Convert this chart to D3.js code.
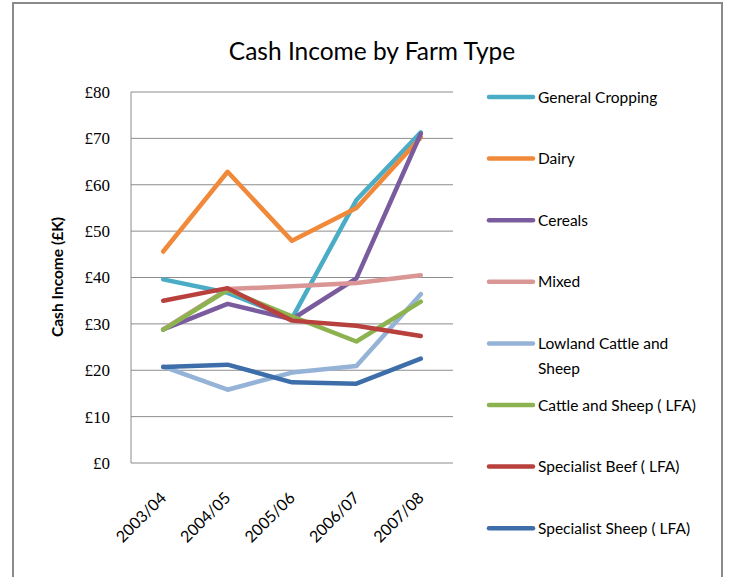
<!DOCTYPE html>
<html>
<head>
<meta charset="utf-8">
<script src="https://cdn.jsdelivr.net/npm/d3@7/dist/d3.min.js"></script>
<style>
  html, body { margin: 0; padding: 0; background: #fff; }
  svg { display: block; }
</style>
</head>
<body>
<svg id="chart" width="729" height="577"></svg>
<script>
// Cash income (£K) by farm type, 2003/04 – 2007/08
const years = ["2003/04", "2004/05", "2005/06", "2006/07", "2007/08"];
const seriesNames = [
  "General Cropping", "Dairy", "Cereals", "Mixed",
  "Lowland Cattle and Sheep", "Cattle and Sheep ( LFA)",
  "Specialist Beef ( LFA)", "Specialist Sheep ( LFA)"
];
const generalCropping = [39.6, 36.7, 31.2, 56.7, 71.3];
const dairy           = [45.6, 62.8, 47.9, 55.0, 70.2];
const cereals         = [28.8, 34.3, 31.0, 39.8, 71.0];
const mixed           = [28.8, 37.5, 38.1, 38.8, 40.5];
const lowland         = [20.8, 15.8, 19.5, 20.9, 36.4];
const cattleSheepLFA  = [28.7, 37.3, 31.6, 26.2, 34.8];
const beefLFA         = [35.0, 37.7, 30.7, 29.6, 27.4];
const sheepLFA        = [20.7, 21.2, 17.4, 17.1, 22.5];
const yTicks = [0, 10, 20, 30, 40, 50, 60, 70, 80];
const colors = ["#4BACC6", "#F08A3A", "#7A5C9E", "#D99694", "#95B3D7", "#8DB350", "#B8403D", "#3D6EAA"];

const allValues = [generalCropping, dairy, cereals, mixed, lowland, cattleSheepLFA, beefLFA, sheepLFA];
const series = seriesNames.map((name, i) => ({ name, values: allValues[i], color: colors[i] }));

const svg = d3.select("#chart");
const sans = "Lato, 'Open Sans', sans-serif";

// outer frame
svg.append("rect")
  .attr("x", 13).attr("y", 3).attr("width", 709).attr("height", 590)
  .attr("fill", "#fff").attr("stroke", "#8a8a8a").attr("stroke-width", 2);

// title
svg.append("text")
  .attr("x", 372).attr("y", 60)
  .attr("text-anchor", "middle")
  .attr("font-family", sans).attr("font-size", 24.5)
  .attr("fill", "#000")
  .text("Cash Income by Farm Type");

const plot = { left: 131, right: 453, top: 92, bottom: 463 };

const x = d3.scaleBand().domain(years).range([plot.left, plot.right]);
const y = d3.scaleLinear().domain([0, 80]).range([plot.bottom, plot.top]);

// horizontal gridlines
svg.append("g")
  .selectAll("line")
  .data(yTicks)
  .join("line")
  .attr("x1", plot.left).attr("x2", plot.right)
  .attr("y1", d => y(d)).attr("y2", d => y(d))
  .attr("stroke", "#8c8c8c").attr("stroke-width", 1);

// vertical axis line
svg.append("line")
  .attr("x1", plot.left).attr("x2", plot.left)
  .attr("y1", plot.top).attr("y2", plot.bottom)
  .attr("stroke", "#8c8c8c").attr("stroke-width", 1);

// y tick labels
const yAxis = d3.axisLeft(y).tickValues(yTicks).tickFormat(d => "£" + d).tickSize(0).tickPadding(21);
const gy = svg.append("g").attr("transform", `translate(${plot.left},0)`).call(yAxis);
gy.select(".domain").remove();
gy.selectAll("text")
  .attr("font-family", "'Liberation Serif', serif")
  .attr("font-size", 17)
  .attr("fill", "#000");

// x tick labels, rotated
const xAxis = d3.axisBottom(x).tickSize(0).tickPadding(0);
const gx = svg.append("g").attr("transform", `translate(0,${plot.bottom})`).call(xAxis);
gx.select(".domain").remove();
gx.selectAll("text")
  .attr("font-family", sans).attr("font-size", 16)
  .attr("fill", "#000")
  .attr("text-anchor", "end")
  .attr("dy", null)
  .attr("transform", "translate(4,36) rotate(-45)");

// y axis title
svg.append("text")
  .attr("transform", "translate(63,277) rotate(-90)")
  .attr("text-anchor", "middle")
  .attr("font-family", sans).attr("font-size", 15.5).attr("font-weight", "bold")
  .attr("fill", "#000")
  .text("Cash Income (£K)");

// series lines
const line = d3.line()
  .x((d, i) => x(years[i]) + x.bandwidth() / 2)
  .y(d => y(d));

svg.append("g")
  .selectAll("path")
  .data(series)
  .join("path")
  .attr("d", d => line(d.values))
  .attr("fill", "none")
  .attr("stroke", d => d.color)
  .attr("stroke-width", 4.5)
  .attr("stroke-linejoin", "round")
  .attr("stroke-linecap", "round");

// legend
const legend = svg.append("g").attr("transform", "translate(489,97)");
const item = legend.selectAll("g")
  .data(series)
  .join("g")
  .attr("transform", (d, i) => `translate(0,${i * 61.6})`);
item.append("line")
  .attr("x1", 0).attr("x2", 44)
  .attr("y1", 0).attr("y2", 0)
  .attr("stroke", d => d.color)
  .attr("stroke-width", 4.5)
  .attr("stroke-linecap", "round");
item.append("text")
  .attr("x", 49).attr("y", 5.5)
  .attr("font-family", sans).attr("font-size", 15.5)
  .attr("fill", "#000")
  .each(function (d) {
    const t = d3.select(this);
    if (d.name === "Lowland Cattle and Sheep") {
      t.append("tspan").attr("x", 49).text("Lowland Cattle and");
      t.append("tspan").attr("x", 49).attr("dy", 25).text("Sheep");
    } else {
      t.text(d.name);
    }
  });
</script>
</body>
</html>
